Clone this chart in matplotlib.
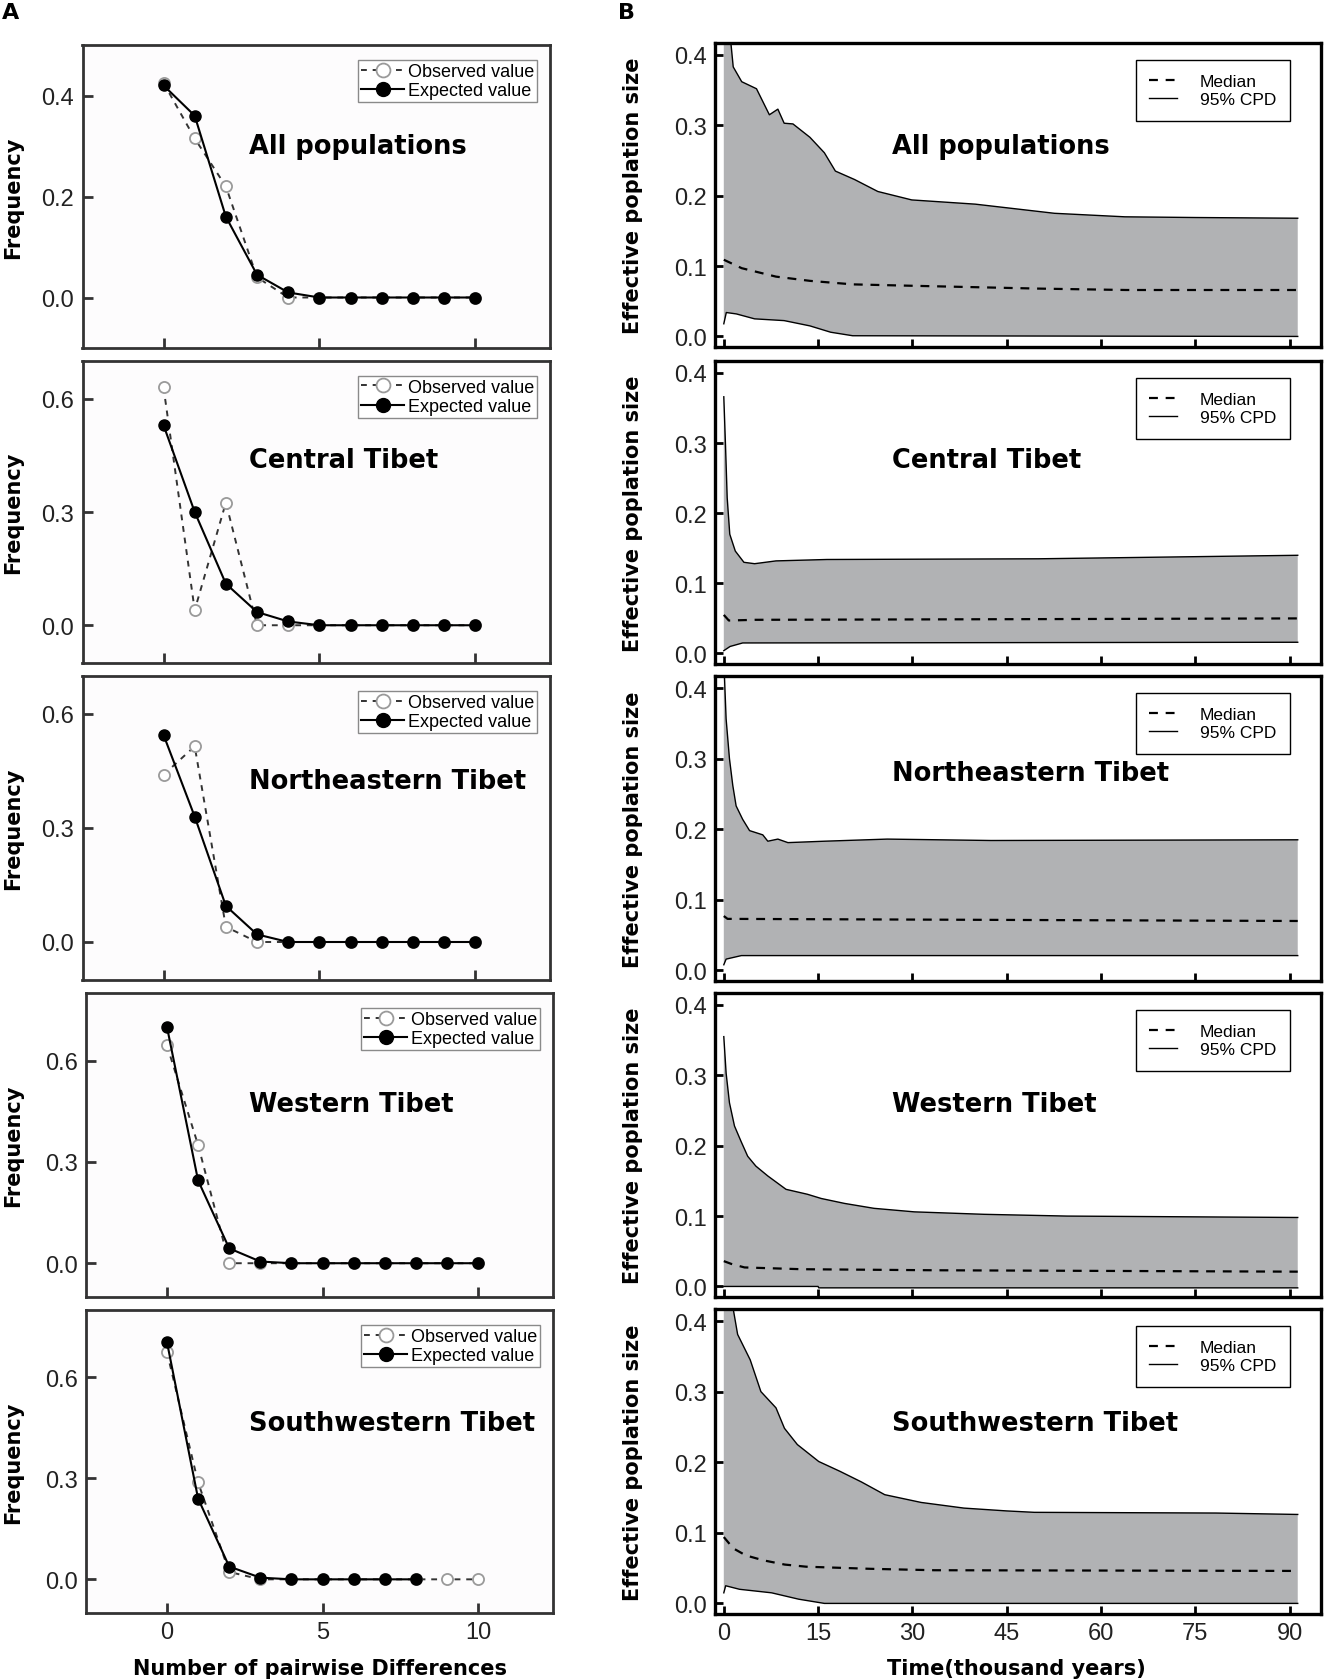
import matplotlib
matplotlib.use("Agg")
import matplotlib.pyplot as plt
import numpy as np

# ---------------- Panel A data (mismatch distributions) ----------------
diff_x = [0, 1, 2, 3, 4, 5, 6, 7, 8, 9, 10]
all_obs = [0.425, 0.315, 0.22, 0.04, 0.0, 0, 0, 0, 0, 0, 0]
all_exp = [0.42, 0.36, 0.16, 0.045, 0.01, 0, 0, 0, 0, 0, 0]
central_obs = [0.63, 0.04, 0.325, 0.0, 0.0, 0, 0, 0, 0, 0, 0]
central_exp = [0.53, 0.30, 0.11, 0.035, 0.01, 0, 0, 0, 0, 0, 0]
ne_obs = [0.44, 0.515, 0.04, 0.0, 0.0, 0, 0, 0, 0, 0, 0]
ne_exp = [0.545, 0.33, 0.095, 0.02, 0.0, 0, 0, 0, 0, 0, 0]
w_obs = [0.645, 0.35, 0.0, 0.0, 0, 0, 0, 0, 0, 0, 0]
w_exp = [0.70, 0.245, 0.044, 0.005, 0, 0, 0, 0, 0, 0, 0]
sw_obs = [0.675, 0.288, 0.022, 0.0, 0, 0, 0, 0, 0, 0, 0]
sw_exp_x = [0, 1, 2, 3, 4, 5, 6, 7, 8]
sw_exp = [0.705, 0.24, 0.038, 0.005, 0, 0, 0, 0, 0]

names = ["All populations", "Central Tibet", "Northeastern Tibet",
         "Western Tibet", "Southwestern Tibet"]

# ---------------- Panel B data (Bayesian skyline) ----------------
all_t_up = [0, 0.5, 1.15, 1.5, 2.85, 5.2, 7.25, 8.6, 9.6, 11, 13.7, 16, 17.75, 20.8, 24.5, 29.9, 40, 52.6, 63.8, 75, 91.3]
all_up = [0.48, 0.44, 0.415, 0.383, 0.362, 0.352, 0.315, 0.323, 0.303, 0.302, 0.283, 0.261, 0.235, 0.223, 0.206, 0.194, 0.188, 0.175, 0.170, 0.169, 0.168]
all_t_lo = [0, 0.4, 2, 4.9, 9.6, 13.7, 17, 20.5, 91.3]
all_lo = [0.018, 0.034, 0.032, 0.025, 0.0225, 0.015, 0.006, 0.001, 0.0]
all_t_med = [0, 2.85, 8.3, 13.7, 20.5, 30, 50, 64, 91.3]
all_med = [0.109, 0.097, 0.085, 0.079, 0.074, 0.072, 0.068, 0.066, 0.066]

ct_t_up = [0, 0.27, 0.54, 0.95, 1.83, 3.2, 4.9, 8.3, 16.4, 50, 91.3]
ct_up = [0.366, 0.297, 0.222, 0.170, 0.146, 0.130, 0.128, 0.132, 0.134, 0.135, 0.140]
ct_t_lo = [0, 1, 3, 91.3]
ct_lo = [0.004, 0.010, 0.015, 0.016]
ct_t_med = [0, 0.8, 5, 50, 91.3]
ct_med = [0.055, 0.047, 0.048, 0.049, 0.050]

ne_t_up = [0, 0.37, 0.9, 1.43, 1.96, 3.0, 4.1, 6.2, 7.0, 8.6, 10.2, 16, 26, 42.5, 91.3]
ne_up = [0.44, 0.356, 0.30, 0.262, 0.233, 0.214, 0.198, 0.192, 0.183, 0.186, 0.181, 0.183, 0.186, 0.184, 0.185]
ne_t_lo = [0, 0.37, 2.8, 91.3]
ne_lo = [0.008, 0.016, 0.021, 0.021]
ne_t_med = [0, 0.6, 30, 91.3]
ne_med = [0.077, 0.073, 0.072, 0.070]

w_t_up = [0, 0.37, 0.9, 1.7, 2.75, 3.8, 5.1, 7.0, 9.9, 13.3, 15.5, 19.2, 23.9, 30.3, 41.4, 54.6, 91.3]
w_up = [0.355, 0.303, 0.261, 0.228, 0.206, 0.185, 0.171, 0.157, 0.138, 0.131, 0.125, 0.118, 0.111, 0.106, 0.1025, 0.100, 0.098]
w_t_lo = [0, 15, 15.1, 91.3]
w_lo = [0.0, 0.0, -0.002, -0.002]
w_t_med = [0, 1.2, 3.3, 12.3, 33.5, 91.3]
w_med = [0.036, 0.032, 0.027, 0.0245, 0.023, 0.021]

sw_t_up = [0, 1.0, 1.5, 2.2, 4.2, 5.9, 8.3, 9.65, 11.7, 15.1, 18.5, 21.9, 25.6, 31.4, 38.2, 45, 49.4, 78.3, 91.3]
sw_up = [0.47, 0.43, 0.417, 0.381, 0.345, 0.30, 0.277, 0.248, 0.225, 0.201, 0.187, 0.172, 0.154, 0.143, 0.135, 0.131, 0.129, 0.128, 0.126]
sw_t_lo = [0, 0.3, 2.5, 7.6, 11.9, 16, 91.3]
sw_lo = [0.015, 0.025, 0.020, 0.015, 0.006, 0.0, 0.0]
sw_t_med = [0, 1.5, 3.5, 6.3, 9.7, 13.1, 23.3, 33.5, 91.3]
sw_med = [0.094, 0.078, 0.068, 0.061, 0.055, 0.052, 0.049, 0.047, 0.046]

left_data = [
    (diff_x, all_obs, diff_x, all_exp, [0.0, 0.2, 0.4], (-0.1, 0.5)),
    (diff_x, central_obs, diff_x, central_exp, [0.0, 0.3, 0.6], (-0.1, 0.7)),
    (diff_x, ne_obs, diff_x, ne_exp, [0.0, 0.3, 0.6], (-0.1, 0.7)),
    (diff_x, w_obs, diff_x, w_exp, [0.0, 0.3, 0.6], (-0.1, 0.8)),
    (diff_x, sw_obs, sw_exp_x, sw_exp, [0.0, 0.3, 0.6], (-0.1, 0.8)),
]
right_data = [
    (all_t_up, all_up, all_t_lo, all_lo, all_t_med, all_med),
    (ct_t_up, ct_up, ct_t_lo, ct_lo, ct_t_med, ct_med),
    (ne_t_up, ne_up, ne_t_lo, ne_lo, ne_t_med, ne_med),
    (w_t_up, w_up, w_t_lo, w_lo, w_t_med, w_med),
    (sw_t_up, sw_up, sw_t_lo, sw_lo, sw_t_med, sw_med),
]

W, H = 1325, 1681
fig = plt.figure(figsize=(W / 100, H / 100), dpi=100)
fig.patch.set_facecolor("white")

left_rows = [(82.5, 550, 46, 349), (82.5, 550, 362, 664), (82.5, 550, 677, 981),
             (86, 553, 994, 1298), (86, 553, 1311, 1614)]
right_rows = [(715, 1321, 44, 348), (715, 1321, 362, 665), (715, 1321, 677, 982),
              (715, 1321, 994, 1298), (715, 1321, 1310, 1615)]
left_title_y = [147, 461, 782, 1105, 1424]
right_title_y = [147, 461, 774, 1105, 1424]


def add_ax(x0, x1, top, bottom):
    return fig.add_axes([x0 / W, 1 - bottom / H, (x1 - x0) / W, (bottom - top) / H])


tick_font = {"family": "Liberation Sans", "size": 17}
label_font = dict(family="DejaVu Sans", weight="bold", size=15)
title_font = dict(family="DejaVu Sans", weight="bold", size=18.5)

for i, (rowbox, d) in enumerate(zip(left_rows, left_data)):
    ox, oy, ex, ey, yt, yl = d
    ax = add_ax(*rowbox)
    ax.set_facecolor("#fdfcfd")
    ax.plot(ox, oy, linestyle=(0, (3, 3)), color="#333333", lw=1.4,
            marker="o", ms=8, mfc="white", mec="#9a9a9a", mew=1.3,
            label="Observed value", zorder=2)
    ax.plot(ex, ey, linestyle="-", color="black", lw=1.5,
            marker="o", ms=8, mfc="black", mec="black",
            label="Expected value", zorder=3)
    ax.set_xlim(-2.6, 12.4)
    ax.set_ylim(*yl)
    ax.set_xticks([0, 5, 10])
    ax.set_yticks(yt)
    ax.set_yticklabels([f"{v:.1f}" for v in yt], fontdict=tick_font)
    if i == 4:
        ax.set_xticklabels(["0", "5", "10"], fontdict=tick_font)
    else:
        ax.set_xticklabels([])
    ax.tick_params(direction="in", length=7, width=2, color="#333333",
                   pad=6, labelcolor="#222222")
    for s in ax.spines.values():
        s.set_linewidth(2.0)
        s.set_color("#333333")
    leg = ax.legend(loc="upper right", bbox_to_anchor=(0.972, 0.95),
                    prop={"family": "Liberation Sans", "size": 13},
                    frameon=True, fancybox=False, edgecolor="#8a8a8a",
                    framealpha=1, borderpad=0.15, labelspacing=0.12,
                    handlelength=2.4, handletextpad=0.2, borderaxespad=0,
                    markerscale=1.25)
    leg.get_frame().set_linewidth(1.0)
    fig.text(249 / W, 1 - left_title_y[i] / H, names[i], ha="left", va="center",
             **title_font)
    fig.text(13 / W, 1 - (rowbox[2] + rowbox[3]) / 2 / H, "Frequency",
             rotation=90, ha="center", va="center", **label_font)

for i, (rowbox, d) in enumerate(zip(right_rows, right_data)):
    tu, vu, tl, vl, tm, vm = d
    ax = add_ax(*rowbox)
    poly_t = list(tu) + list(tl)[::-1]
    poly_v = list(vu) + list(vl)[::-1]
    ax.fill(poly_t, poly_v, color="#b1b2b4", lw=0, zorder=1)
    ax.plot(tu, vu, color="black", lw=1.0, zorder=2)
    ax.plot(tl, vl, color="black", lw=1.0, zorder=2)
    ax.plot(tm, vm, color="black", lw=1.6, linestyle=(0, (4, 3.5)), zorder=3)
    ax.set_xlim(-1.4, 95)
    ax.set_ylim(-0.015, 0.417)
    ax.set_xticks([0, 15, 30, 45, 60, 75, 90])
    ax.set_yticks([0.0, 0.1, 0.2, 0.3, 0.4])
    ax.set_yticklabels(["0.0", "0.1", "0.2", "0.3", "0.4"], fontdict=tick_font)
    if i == 4:
        ax.set_xticklabels(["0", "15", "30", "45", "60", "75", "90"], fontdict=tick_font)
    else:
        ax.set_xticklabels([])
    ax.tick_params(direction="in", length=6, width=2, color="black", pad=6,
                   labelcolor="#222222")
    for s in ax.spines.values():
        s.set_linewidth(2.4)
        s.set_color("black")
    h_med = plt.Line2D([], [], color="black", lw=1.6, linestyle=(0, (4, 3.5)))
    h_cpd = plt.Line2D([], [], color="black", lw=1.0)
    leg = ax.legend([h_med, h_cpd], ["Median", "95% CPD"], loc="upper right",
                    bbox_to_anchor=(0.949, 0.944),
                    prop={"family": "Liberation Sans", "size": 12.5},
                    frameon=True, fancybox=False, edgecolor="black",
                    framealpha=1, borderpad=0.8, labelspacing=0.15,
                    handlelength=1.6, handletextpad=1.3, borderaxespad=0)
    leg.get_frame().set_linewidth(1.0)
    fig.text(892 / W, 1 - right_title_y[i] / H, names[i], ha="left", va="center",
             **title_font)
    fig.text(633 / W, 1 - (rowbox[2] + rowbox[3]) / 2 / H, "Effective poplation size",
             rotation=90, ha="center", va="center", **label_font)

fig.text(320 / W, 1 - 1669 / H, "Number of pairwise Differences", ha="center",
         va="center", **label_font)
fig.text(1016 / W, 1 - 1669 / H, "Time(thousand years)", ha="center",
         va="center", **label_font)
fig.text(11 / W, 1 - 13 / H, "A", ha="center", va="center",
         family="DejaVu Sans", weight="bold", size=16)
fig.text(627 / W, 1 - 13 / H, "B", ha="center", va="center",
         family="DejaVu Sans", weight="bold", size=16)

fig.savefig("out.png", dpi=100)
